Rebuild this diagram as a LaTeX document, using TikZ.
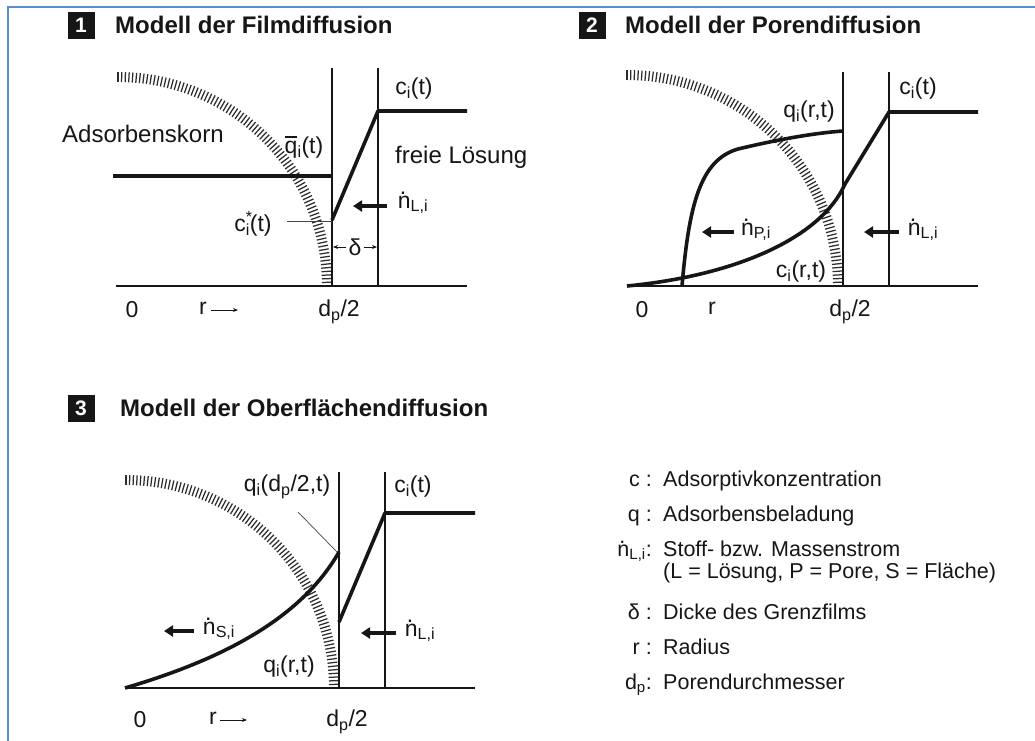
\documentclass[tikz,border=0pt]{standalone}
\usepackage{fontspec}
\setmainfont{Liberation Sans}
\usetikzlibrary{arrows.meta}
\definecolor{framecol}{HTML}{5B8DD6}
\definecolor{ink}{HTML}{161616}
\newcommand\ndot{\leavevmode\rlap{\kern.09em\raisebox{.6em}{.}}n}
\newcommand\qbar{\leavevmode\rlap{\kern.02em\rule[.68em]{.5em}{.075em}}q}
\newcommand\sbs[1]{\textsubscript{#1}}
\newcommand\hatcharc[3]{%
  \begin{scope}[shift={(#1,#2)}]
    \foreach \a in {0,1,...,90}{\draw[hatch] ({-\a}:{#3-10}) -- ({-\a}:{#3});}
  \end{scope}}
\tikzset{
  curveline/.style={ink, line width=3.6pt, line join=round},
  thinline/.style={ink, line width=1.8pt},
  hatch/.style={ink!90, line width=1.25pt},
  leader/.style={ink!80, line width=0.7pt},
  flowarrow/.style={ink, line width=3.8pt, -{Triangle[length=9pt,width=11pt]}},
  smallarrow/.style={ink, line width=0.8pt, -{Stealth[length=5pt,width=4pt]}},
  lbl/.style={ink, font=\fontsize{23}{25}\selectfont, inner sep=0pt},
  biglbl/.style={ink, font=\fontsize{24}{26}\selectfont, inner sep=0pt},
  ttl/.style={ink, font=\bfseries\fontsize{24}{26}\selectfont, inner sep=0pt},
  numbox/.style={fill=ink, text=white, font=\bfseries\fontsize{21}{21}\selectfont, minimum width=27pt, minimum height=27pt, inner sep=0pt},
  legsym/.style={ink, font=\fontsize{21.5}{23}\selectfont, inner sep=0pt, anchor=base east},
  legtext/.style={ink, font=\fontsize{21.5}{23}\selectfont, inner sep=0pt, anchor=base west},
}
\begin{document}
\begin{tikzpicture}[x=1pt,y=-1pt]
\useasboundingbox (0,0) rectangle (1035,740);
\fill[white] (0,0) rectangle (1035,740);
\draw[framecol, line width=2pt] (8,742) -- (8,7) -- (1037,7);

% ---------- Panel 1 ----------
\node[numbox] (b1) at (81,25) {1};
\node[ttl, anchor=base west] (t1) at (115,33) {Modell der Filmdiffusion};
\hatcharc{118}{286}{214}
\draw[thinline] (116,286) -- (467,286);
\draw[thinline] (332,68) -- (332,286);
\draw[thinline] (378,68) -- (378,286);
\draw[curveline] (113,176) -- (332,176);
\draw[curveline] (332,220) -- (378,111) -- (467,111);
\node[biglbl, anchor=base west] (adk) at (62,142) {Adsorbenskorn};
\node[biglbl, anchor=base west] (frl) at (395,163) {freie Lösung};
\node[lbl] (q1) at (304,147) {\qbar\sbs{i}(t)};
\node[lbl] (c1) at (414,89) {c\sbs{i}(t)};
\node[lbl] (cs1) at (253,224) {c\rlap{\textsuperscript{*}}\sbs{i}(t)};
\coordinate (cs1e) at (332,221);
\draw[leader] (287,221) -- (cs1e);
\node[lbl] (nl1) at (413,203) {\ndot\sbs{L,i}};
\draw[flowarrow] (387,206) -- (353,206);
\node[lbl] (d1) at (355,247) {δ};
\draw[smallarrow] (d1.west) ++(-2,0) -- (333,247);
\draw[smallarrow] (d1.east) ++(2,0) -- (377,247);
\node[lbl] (z1) at (132,310) {0};
\node[lbl] (r1) at (203,308) {r};
\draw[smallarrow] (211,310) -- (238,310);
\node[lbl] (dp1) at (339,312) {d\sbs{p}/2};

% ---------- Panel 2 ----------
\node[numbox] (b2) at (592,25) {2};
\node[ttl, anchor=base west] (t2) at (625,33) {Modell der Porendiffusion};
\hatcharc{627}{286}{216}
\draw[thinline] (627,286) -- (978,286);
\draw[thinline] (843,72) -- (843,286);
\draw[thinline] (889,72) -- (889,286);
\draw[curveline] (978,112) -- (889,112) -- (845,184) .. controls (822,236) and (740,275) .. (627,286);
\draw[curveline] (682,286) .. controls (689,205) and (700,160) .. (738,149) .. controls (780,139) and (815,133) .. (843,131);
\node[lbl] (q2) at (809,112) {q\sbs{i}(r,t)};
\node[lbl] (c2) at (918,89) {c\sbs{i}(t)};
\node[lbl] (cr2) at (801,272) {c\sbs{i}(r,t)};
\node[lbl] (np2) at (756,230) {\ndot\sbs{P,i}};
\draw[flowarrow] (734,232) -- (702,232);
\node[lbl] (nl2) at (923,230) {\ndot\sbs{L,i}};
\draw[flowarrow] (899,232) -- (864,232);
\node[lbl] (z2) at (642,310) {0};
\node[lbl] (r2) at (712,308) {r};
\node[lbl] (dp2) at (850,312) {d\sbs{p}/2};

% ---------- Panel 3 ----------
\node[numbox] (b3) at (81,408) {3};
\node[ttl, anchor=base west] (t3) at (120,416) {Modell der Oberflächendiffusion};
\hatcharc{126}{688}{213}
\draw[thinline] (125,688) -- (475,688);
\draw[thinline] (339,472) -- (339,688);
\draw[thinline] (385,472) -- (385,688);
\draw[curveline] (339,622) -- (385,513) -- (475,513);
\draw[curveline] (125,688) .. controls (220,660) and (300,620) .. (339,552);
\node[lbl] (q3) at (287,487) {q\sbs{i}(d\sbs{p}/2,t)};
\coordinate (q3e) at (337,552);
\draw[leader] (298,512) -- (q3e);
\node[lbl] (c3) at (413,487) {c\sbs{i}(t)};
\node[lbl] (ns3) at (219,629) {\ndot\sbs{S,i}};
\draw[flowarrow] (194,631) -- (164,631);
\node[lbl] (nl3) at (420,631) {\ndot\sbs{L,i}};
\draw[flowarrow] (396,633) -- (361,633);
\node[lbl] (qr3) at (289,667) {q\sbs{i}(r,t)};
\node[lbl] (z3) at (140,720) {0};
\node[lbl] (r3) at (213,718) {r};
\draw[smallarrow] (220,720) -- (247,720);
\node[lbl] (dp3) at (347,722) {d\sbs{p}/2};

% ---------- Legend ----------
\node[legsym] (ls1) at (652,486) {c :};
\node[legtext] (lt1) at (663,486) {Adsorptivkonzentration};
\node[legsym] (ls2) at (652,521) {q :};
\node[legtext] (lt2) at (663,521) {Adsorbensbeladung};
\node[legsym] (ls3) at (652,556) {\ndot\sbs{L,i}:};
\node[legtext] (lt3) at (663,556) {Stoff- bzw. Massenstrom};
\node[legtext] (lt3b) at (663,578) {(L = Lösung, P = Pore, S = Fläche)};
\node[legsym] (ls4) at (652,619) {δ :};
\node[legtext] (lt4) at (663,619) {Dicke des Grenzfilms};
\node[legsym] (ls5) at (652,654) {r :};
\node[legtext] (lt5) at (663,654) {Radius};
\node[legsym] (ls6) at (652,689) {d\sbs{p}:};
\node[legtext] (lt6) at (663,689) {Porendurchmesser};
\end{tikzpicture}
\end{document}
